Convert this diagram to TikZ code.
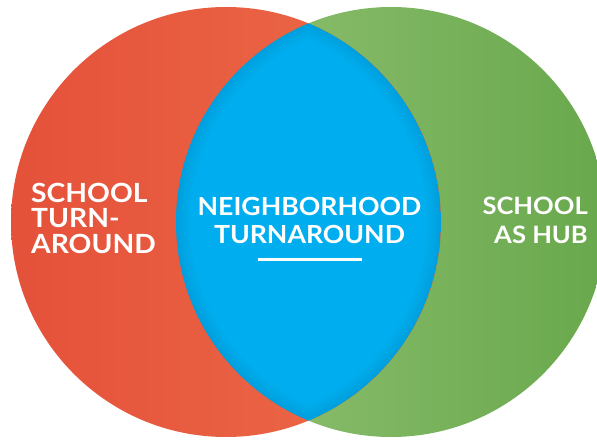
\documentclass[tikz,border=0pt]{standalone}
\usepackage{fontspec}
\newfontfamily\vennfont{Lato}[FakeStretch=1.07]
\usetikzlibrary{calc,positioning}
\definecolor{redL}{HTML}{E5513A}
\definecolor{redR}{HTML}{EC6C48}
\definecolor{greenL}{HTML}{93C274}
\definecolor{greenR}{HTML}{68A84C}
\definecolor{lensblue}{HTML}{00AEEF}
\definecolor{lensedge}{HTML}{0086BE}
\tikzset{%
	setlabel/.style  = {text=white, inner sep=0pt, font=\vennfont\bfseries\fontsize{26.5}{25.5}\selectfont},
	hublabel/.style  = {text=white, inner sep=0pt, font=\vennfont\bfseries\fontsize{24}{28.5}\selectfont},
	lenslabel/.style = {text=white, inner sep=0pt, font=\vennfont\bfseries\fontsize{25}{28}\selectfont},
	rule/.style      = {white, line width=2.6bp},
}

\begin{document}
\begin{tikzpicture}[x=1bp,y=-1bp]
	\useasboundingbox (0,0) rectangle (597,440);
	\coordinate (L) at (226,222);  % left circle centre
	\coordinate (R) at (391,222);  % right circle centre
	
	\shade[left color=greenL, right color=greenR] (R) circle (215);
	\shade[left color=redL, right color=redR] (L) circle (215);
	
	% overlap
	\begin{scope}
	\clip (L) circle (215);
	\clip (R) circle (215);
	\fill[lensblue] (L) circle (215);
	\foreach \w in {28,22,16,10,5}
		\draw[lensedge, line width=\w bp, opacity=0.07] (L) circle (215) (R) circle (215);
	\end{scope}
	
	\node[setlabel, align=left, anchor=north west] (turn) at (31,183) {SCHOOL\\TURN-\\AROUND};
	\node[hublabel, align=right, anchor=north east] (hub) at (588,197) {SCHOOL\\AS HUB};
	\node[lenslabel, align=center, anchor=north] (hood) at (309.5,197) {NEIGHBORHOOD\\TURNAROUND};
	
	\coordinate (ruleW) at ($(hood.south)+(-52,16)$);
	\coordinate (ruleE) at ($(hood.south)+(52,16)$);
	\draw[rule] (ruleW) -- (ruleE);
\end{tikzpicture}
\end{document}
